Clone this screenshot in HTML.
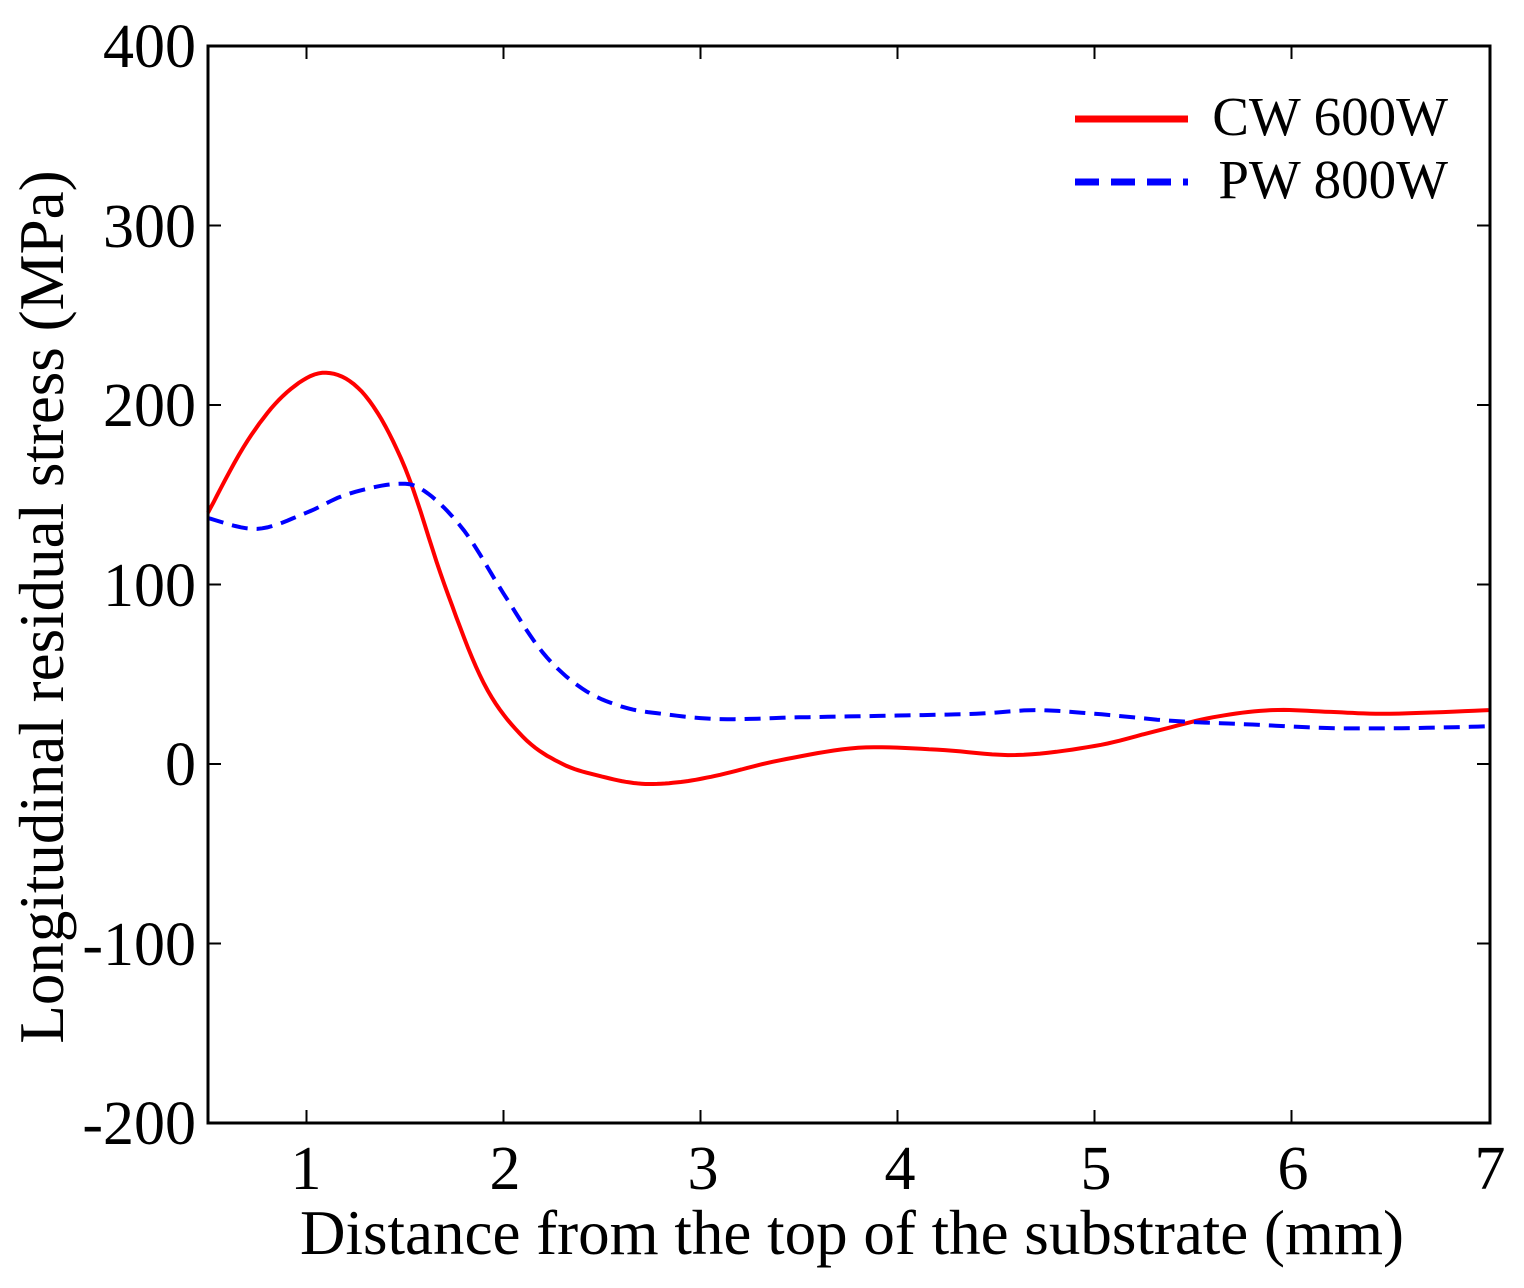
<!DOCTYPE html>
<html><head><meta charset="utf-8"><style>
body{margin:0;background:#fff;}
svg{display:block;font-family:"Liberation Serif",serif;}
</style></head><body>
<svg id="s" width="1524" height="1288" xmlns="http://www.w3.org/2000/svg">
<rect x="0" y="0" width="1524" height="1288" fill="#fff"/>
<g id="ticks" stroke="#000" stroke-width="2"></g>
<path id="red" fill="none" stroke="#f00" stroke-width="4"/>
<path id="blue" fill="none" stroke="#00f" stroke-width="4" stroke-dasharray="16,9"/>
<rect x="208" y="46" width="1282" height="1077" fill="none" stroke="#000" stroke-width="3"/>
<g font-size="62" text-anchor="end" fill="#000">
<text x="196" y="67">400</text>
<text x="196" y="247">300</text>
<text x="196" y="426">200</text>
<text x="196" y="606">100</text>
<text x="196" y="785">0</text>
<text x="196" y="965">-100</text>
<text x="196" y="1144">-200</text>
</g>
<g font-size="62" text-anchor="middle" fill="#000">
<text x="306" y="1189">1</text>
<text x="505" y="1189">2</text>
<text x="703" y="1189">3</text>
<text x="900" y="1189">4</text>
<text x="1096" y="1189">5</text>
<text x="1293" y="1189">6</text>
<text x="1490" y="1189">7</text>
</g>
<text x="852" y="1254" font-size="63" text-anchor="middle">Distance from the top of the substrate (mm)</text>
<text transform="translate(63,607) rotate(-90)" font-size="63" text-anchor="middle">Longitudinal residual stress (MPa)</text>
<line x1="1075" y1="119" x2="1188" y2="119" stroke="#f00" stroke-width="7"/>
<line x1="1075" y1="182" x2="1188" y2="182" stroke="#00f" stroke-width="7" stroke-dasharray="24,12"/>
<text x="1448" y="135" font-size="55" text-anchor="end">CW 600W</text>
<text x="1448" y="198" font-size="55" text-anchor="end">PW 800W</text>
</svg>
<script>
function X(v){return 208+(v-0.5)*197;}
function Y(v){return 764-v*1.795;}
var t=document.getElementById('ticks'),h='';
[1,2,3,4,5,6].forEach(function(v){var x=X(v);h+='<line x1="'+x+'" y1="1123" x2="'+x+'" y2="1110"/><line x1="'+x+'" y1="46" x2="'+x+'" y2="59"/>';});
[-100,0,100,200,300].forEach(function(v){var y=Y(v);h+='<line x1="208" y1="'+y+'" x2="221" y2="'+y+'"/><line x1="1490" y1="'+y+'" x2="1477" y2="'+y+'"/>';});
t.innerHTML=h;
function path(p){var d='M'+X(p[0][0])+','+Y(p[0][1]);
for(var i=0;i<p.length-1;i++){var p0=p[Math.max(i-1,0)],p1=p[i],p2=p[i+1],p3=p[Math.min(i+2,p.length-1)];
for(var k=1;k<=10;k++){var s=k/10,s2=s*s,s3=s2*s;
function cr(a,b,c,e){return 0.5*(2*b+(-a+c)*s+(2*a-5*b+4*c-e)*s2+(-a+3*b-3*c+e)*s3);}
d+=' L'+X(cr(p0[0],p1[0],p2[0],p3[0])).toFixed(1)+','+Y(cr(p0[1],p1[1],p2[1],p3[1])).toFixed(1);}}
return d;}
document.getElementById('red').setAttribute('d',path([[0.5,140],[0.7,180],[0.9,207],[1.1,218],[1.3,205],[1.5,165],[1.7,100],[1.9,45],[2.1,15],[2.3,0],[2.5,-7],[2.7,-11],[2.9,-10],[3.1,-6],[3.4,2],[3.8,9],[4.2,8],[4.6,5],[5.0,10],[5.3,18],[5.6,26],[5.9,30],[6.2,29],[6.5,28],[7,30]]));
document.getElementById('blue').setAttribute('d',path([[0.5,137],[0.75,131],[1.0,140],[1.2,150],[1.45,156],[1.6,152],[1.8,130],[2.0,95],[2.2,62],[2.4,42],[2.6,32],[2.8,28],[3.1,25],[3.5,26],[4.0,27],[4.4,28],[4.7,30],[5.0,28],[5.4,24],[5.8,22],[6.2,20],[6.6,20],[7,21]]));
</script>
</body></html>
